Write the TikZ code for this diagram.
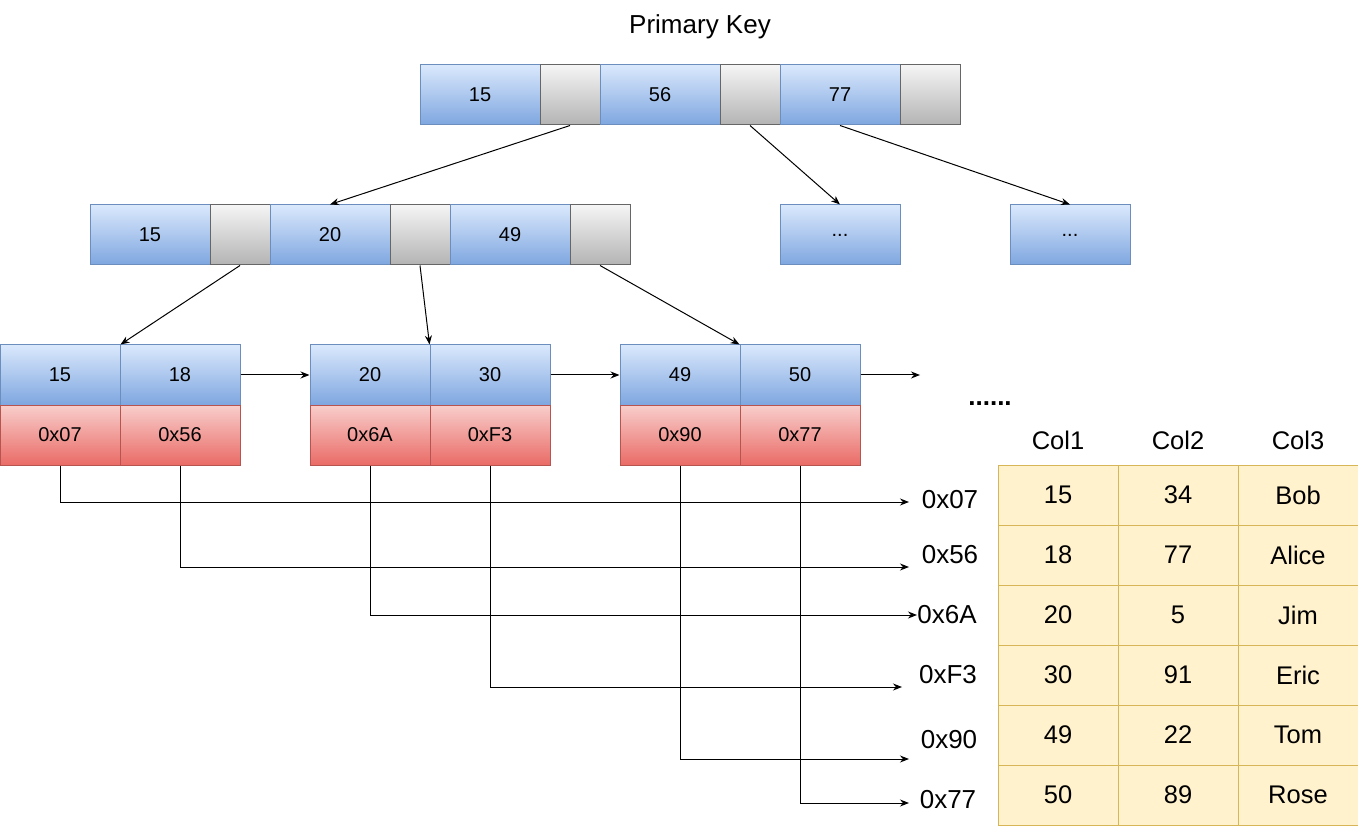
\documentclass[tikz,border=0pt]{standalone}
\usepackage{fontspec}
\setmainfont{Liberation Sans}
\usetikzlibrary{arrows.meta}
\definecolor{keyTop}{HTML}{DAE8FC}
\definecolor{keyBot}{HTML}{7EA6E0}
\definecolor{keyLine}{HTML}{6C8EBF}
\definecolor{ptrTop}{HTML}{F5F5F5}
\definecolor{ptrBot}{HTML}{B3B3B3}
\definecolor{ptrLine}{HTML}{666666}
\definecolor{addrTop}{HTML}{F8CECC}
\definecolor{addrBot}{HTML}{EA6B66}
\definecolor{addrLine}{HTML}{B85450}
\definecolor{tabFill}{HTML}{FFF2CC}
\definecolor{tabLine}{HTML}{D6B656}
\tikzset{
	cell/.style={minimum width=120pt, minimum height=60pt, inner sep=0pt,
		line width=1pt, font=\fontsize{20}{24}\selectfont},
	keycell/.style={cell, draw=keyLine, top color=keyTop, bottom color=keyBot},
	ptrcell/.style={cell, minimum width=60pt, draw=ptrLine, top color=ptrTop, bottom color=ptrBot},
	addrcell/.style={cell, draw=addrLine, top color=addrTop, bottom color=addrBot},
	tabcell/.style={cell, draw=tabLine, fill=tabFill, font=\fontsize{25.5}{30}\selectfont},
	colhead/.style={font=\fontsize{25.5}{30}\selectfont},
	addrtag/.style={font=\fontsize{26}{30}\selectfont},
	link/.style={-{Stealth[length=9pt,width=7pt]}, line width=1pt},
}

\begin{document}
\begin{tikzpicture}[x=1pt, y=-1pt]
		\useasboundingbox (0,0) rectangle (1358,826);
		\node [font=\fontsize{26}{30}\selectfont] (PK) at (700,27) {Primary Key};
		% root
		\node [keycell] (R15) at (480,95) {15};
		\node [ptrcell] (RP1) at (570,95) {};
		\node [keycell] (R56) at (660,95) {56};
		\node [ptrcell] (RP2) at (750,95) {};
		\node [keycell] (R77) at (840,95) {77};
		\node [ptrcell] (RP3) at (930,95) {};
		% second level
		\node [keycell] (N15) at (150,235) {15};
		\node [ptrcell] (NP1) at (240,235) {};
		\node [keycell] (N20) at (330,235) {20};
		\node [ptrcell] (NP2) at (420,235) {};
		\node [keycell] (N49) at (510,235) {49};
		\node [ptrcell] (NP3) at (600,235) {};
		\node [keycell] (D1) at (840,235) {...};
		\node [keycell] (D2) at (1070,235) {...};
		% leaves
		\node [keycell] (L15) at (60,375) {15};
		\node [keycell] (L18) at (180,375) {18};
		\node [addrcell] (A07) at (60,435) {0x07};
		\node [addrcell] (A56) at (180,435) {0x56};
		\node [keycell] (L20) at (370,375) {20};
		\node [keycell] (L30) at (490,375) {30};
		\node [addrcell] (A6A) at (370,435) {0x6A};
		\node [addrcell] (AF3) at (490,435) {0xF3};
		\node [keycell] (L49) at (680,375) {49};
		\node [keycell] (L50) at (800,375) {50};
		\node [addrcell] (A90) at (680,435) {0x90};
		\node [addrcell] (A77) at (800,435) {0x77};
		\coordinate (LE) at (920,375);
		\node [font=\bfseries\fontsize{26}{30}\selectfont] (MORE) at (990,404) {......};
		\draw [link] (RP1.south) -- (N20.north);
		\draw [link] (RP2.south) -- (D1.north);
		\draw [link] (R77.south) -- (D2.north);
		\draw [link] (NP1.south) -- (L15.north east);
		\draw [link] (NP2.south) -- (L30.north west);
		\draw [link] (NP3.south) -- (L50.north west);
		\draw [link] (L18.east) -- (L20.west);
		\draw [link] (L30.east) -- (L49.west);
		\draw [link] (L50.east) -- (LE);
		% table
		\node [colhead] (C1) at (1058,440) {Col1};
		\node [colhead] (C2) at (1178,440) {Col2};
		\node [colhead] (C3) at (1298,440) {Col3};
		\node [tabcell] (T11) at (1058,495) {15};
		\node [tabcell] (T12) at (1178,495) {34};
		\node [tabcell] (T13) at (1298,495) {Bob};
		\node [tabcell] (T21) at (1058,555) {18};
		\node [tabcell] (T22) at (1178,555) {77};
		\node [tabcell] (T23) at (1298,555) {Alice};
		\node [tabcell] (T31) at (1058,615) {20};
		\node [tabcell] (T32) at (1178,615) {5};
		\node [tabcell] (T33) at (1298,615) {Jim};
		\node [tabcell] (T41) at (1058,675) {30};
		\node [tabcell] (T42) at (1178,675) {91};
		\node [tabcell] (T43) at (1298,675) {Eric};
		\node [tabcell] (T51) at (1058,735) {49};
		\node [tabcell] (T52) at (1178,735) {22};
		\node [tabcell] (T53) at (1298,735) {Tom};
		\node [tabcell] (T61) at (1058,795) {50};
		\node [tabcell] (T62) at (1178,795) {89};
		\node [tabcell] (T63) at (1298,795) {Rose};
		% row addresses
		\node [addrtag] (G07) at (950,500) {0x07};
		\node [addrtag] (G56) at (950,555) {0x56};
		\node [addrtag] (G6A) at (947,615) {0x6A};
		\node [addrtag] (GF3) at (948,675) {0xF3};
		\node [addrtag] (G90) at (949,740) {0x90};
		\node [addrtag] (G77) at (948,800) {0x77};
		\coordinate (E07) at (909,502);
		\coordinate (E56) at (909,567);
		\coordinate (E6A) at (917,615);
		\coordinate (EF3) at (902,687);
		\coordinate (E90) at (909,759);
		\coordinate (E77) at (909,803);
		\draw [link] (A07.south) |- (E07);
		\draw [link] (A56.south) |- (E56);
		\draw [link] (A6A.south) |- (E6A);
		\draw [link] (AF3.south) |- (EF3);
		\draw [link] (A90.south) |- (E90);
		\draw [link] (A77.south) |- (E77);
	\end{tikzpicture}
\end{document}
